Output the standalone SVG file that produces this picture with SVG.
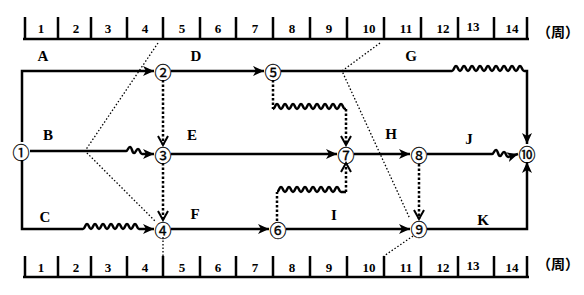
<svg xmlns="http://www.w3.org/2000/svg" width="584" height="295" viewBox="0 0 584 295">
<style>
.ax{stroke:#000;stroke-width:2.5;fill:none}
.ln{stroke:#000;stroke-width:2.5;fill:none}
.dt{stroke:#000;stroke-width:2.5;fill:none;stroke-dasharray:2.5 2}
.ck{stroke:#000;stroke-width:1.3;fill:none;stroke-dasharray:1.5 2}
.num{font-family:"Liberation Serif",serif;font-weight:bold;font-size:13px;text-anchor:middle}
.lab{font-family:"Liberation Serif",serif;font-weight:bold;font-size:15px;text-anchor:middle}
.unit{font-family:"Liberation Serif","Noto Sans CJK SC",serif;font-weight:bold;font-size:14px}
.nd{font-family:"Noto Sans CJK SC",sans-serif;font-size:17px;text-anchor:middle;dominant-baseline:central;stroke:#000;stroke-width:0.3}
</style>
<defs>
<marker id="ar" markerUnits="userSpaceOnUse" markerWidth="12" markerHeight="10" refX="11" refY="5" orient="auto">
<path d="M0,0 L11,5 L0,10 L3,5 z" fill="#000"/>
</marker>
<marker id="av" markerUnits="userSpaceOnUse" markerWidth="12" markerHeight="12" refX="10" refY="6" orient="auto">
<path d="M1,1 L10,6 L1,11" fill="none" stroke="#000" stroke-width="2"/>
</marker>
</defs>
<g id="scale-top">
<path class="ax" d="M23,39 H529 M25,17 V39 M58,17 V39 M91,17 V39 M127,17 V39 M163,17 V39 M200,17 V39 M236,17 V39 M273,17 V39 M310,17 V39 M347,17 V39 M384,17 V39 M421,17 V39 M458,17 V39 M494,17 V39 M527,17 V39"/>
<text class="num" x="41" y="33">1</text><text class="num" x="76" y="33">2</text><text class="num" x="108" y="33">3</text><text class="num" x="145" y="33">4</text><text class="num" x="182" y="33">5</text><text class="num" x="218" y="33">6</text><text class="num" x="255" y="33">7</text><text class="num" x="292" y="33">8</text><text class="num" x="329" y="33">9</text><text class="num" x="369" y="33">10</text><text class="num" x="406" y="33">11</text><text class="num" x="443" y="33">12</text><text class="num" x="473" y="31">13</text><text class="num" x="512" y="33">14</text>
<text class="unit" x="537" y="37">（周）</text>
</g>
<g id="scale-bottom">
<path class="ax" d="M23,277 H529 M25,256 V277 M58,256 V277 M91,256 V277 M127,256 V277 M163,256 V277 M200,256 V277 M236,256 V277 M273,256 V277 M310,256 V277 M347,256 V277 M384,256 V277 M421,256 V277 M458,256 V277 M494,256 V277 M527,256 V277"/>
<text class="num" x="41" y="272">1</text><text class="num" x="76" y="272">2</text><text class="num" x="108" y="272">3</text><text class="num" x="145" y="272">4</text><text class="num" x="182" y="272">5</text><text class="num" x="218" y="272">6</text><text class="num" x="255" y="272">7</text><text class="num" x="292" y="272">8</text><text class="num" x="329" y="272">9</text><text class="num" x="369" y="272">10</text><text class="num" x="406" y="272">11</text><text class="num" x="443" y="272">12</text><text class="num" x="473" y="270">13</text><text class="num" x="512" y="272">14</text>
<text class="unit" x="537" y="269">（周）</text>
</g>
<g id="connectors">
<path class="ln" d="M22,142 V71 H154" marker-end="url(#ar)"/>
<path class="ln" d="M171,71 H264" marker-end="url(#ar)"/>
<path class="ln" d="M281,71 H452 c2,0 2,-5 4,-5 c2,0 2,5 4,5 c2,0 2,-5 4,-5 c2,0 2,5 4,5 c2,0 2,-5 4,-5 c2,0 2,5 4,5 c2,0 2,-5 4,-5 c2,0 2,5 4,5 c2,0 2,-5 4,-5 c2,0 2,5 4,5 c2,0 2,-5 4,-5 c2,0 2,5 4,5 c2,0 2,-5 4,-5 c2,0 2,5 4,5 c2,0 2,-5 4,-5 c2,0 2,5 4,5 c2,0 2,-5 4,-5 c2,0 2,5 4,5 L527,71 V144" marker-end="url(#ar)"/>
<path class="ln" d="M30,151 H126 c2,0 2,-4 4,-4 c2,0 2,6 4,6 c2,0 2,-4 4,-4 c2,0 2,5 4,5 L154,154" marker-end="url(#ar)"/>
<path class="ln" d="M171,154 H337" marker-end="url(#ar)"/>
<path class="ln" d="M354,154 H410" marker-end="url(#ar)"/>
<path class="ln" d="M427,154 H492 c2,0 2,-4 4,-4 c2,0 2,6 4,6 c2,0 2,-4 4,-4 c2,0 2,5 4,5 L518,154" marker-end="url(#ar)"/>
<path class="ln" d="M22,160 V229 H83 c2,0 2,-5 4,-5 c2,0 2,5 4,5 c2,0 2,-5 4,-5 c2,0 2,5 4,5 c2,0 2,-5 4,-5 c2,0 2,5 4,5 c2,0 2,-5 4,-5 c2,0 2,5 4,5 c2,0 2,-5 4,-5 c2,0 2,5 4,5 c2,0 2,-5 4,-5 c2,0 2,5 4,5 c2,0 2,-5 4,-5 c2,0 2,5 4,5 L154,229" marker-end="url(#ar)"/>
<path class="ln" d="M171,229 H269" marker-end="url(#ar)"/>
<path class="ln" d="M286,229 H410" marker-end="url(#ar)"/>
<path class="ln" d="M427,229 H527 V162" marker-end="url(#ar)"/>
<path class="dt" d="M163,80 V145" marker-end="url(#av)"/>
<path class="dt" d="M163,163 V220" marker-end="url(#av)"/>
<path class="dt" d="M419,164 V219" marker-end="url(#av)"/>
<path class="dt" d="M273,80 V109"/>
<path class="ln" d="M273,109 c2,0 2,-5 4,-5 c2,0 2,5 4,5 c2,0 2,-5 4,-5 c2,0 2,5 4,5 c2,0 2,-5 4,-5 c2,0 2,5 4,5 c2,0 2,-5 4,-5 c2,0 2,5 4,5 c2,0 2,-5 4,-5 c2,0 2,5 4,5 c2,0 2,-5 4,-5 c2,0 2,5 4,5 c2,0 2,-5 4,-5 c2,0 2,5 4,5 c2,0 2,-5 4,-5 c2,0 2,5 4,5 c2,0 2,-5 4,-5 c2,0 2,5 4,5 L346,109"/>
<path class="dt" d="M346,109 V145" marker-end="url(#av)"/>
<path class="dt" d="M277,221 V192"/>
<path class="ln" d="M277,192 c2,0 2,-5 4,-5 c2,0 2,5 4,5 c2,0 2,-5 4,-5 c2,0 2,5 4,5 c2,0 2,-5 4,-5 c2,0 2,5 4,5 c2,0 2,-5 4,-5 c2,0 2,5 4,5 c2,0 2,-5 4,-5 c2,0 2,5 4,5 c2,0 2,-5 4,-5 c2,0 2,5 4,5 c2,0 2,-5 4,-5 c2,0 2,5 4,5 c2,0 2,-5 4,-5 c2,0 2,5 4,5 L346,192"/>
<path class="dt" d="M346,192 V163" marker-end="url(#av)"/>
<path class="ck" d="M158,43 L85,151 L156,222 M163,237 V256"/>
<path class="ck" d="M380,43 L342,71 L410,219 M413,236 L384,256"/>
</g>
<g id="labels">
<text class="lab" x="43" y="61">A</text>
<text class="lab" x="196" y="61">D</text>
<text class="lab" x="411" y="61">G</text>
<text class="lab" x="48" y="140">B</text>
<text class="lab" x="192" y="140">E</text>
<text class="lab" x="391" y="139">H</text>
<text class="lab" x="469" y="144">J</text>
<text class="lab" x="45" y="222">C</text>
<text class="lab" x="195" y="219">F</text>
<text class="lab" x="334" y="220">I</text>
<text class="lab" x="483" y="225">K</text>
</g>
<g id="n1"><text class="nd" x="21" y="151">①</text></g>
<g id="n2"><text class="nd" x="163" y="71">②</text></g>
<g id="n3"><text class="nd" x="163" y="154">③</text></g>
<g id="n4"><text class="nd" x="163" y="229">④</text></g>
<g id="n5"><text class="nd" x="273" y="71">⑤</text></g>
<g id="n6"><text class="nd" x="278" y="229">⑥</text></g>
<g id="n7"><text class="nd" x="346" y="154">⑦</text></g>
<g id="n8"><text class="nd" x="419" y="154">⑧</text></g>
<g id="n9"><text class="nd" x="419" y="228">⑨</text></g>
<g id="n10"><text class="nd" x="527" y="153">⑩</text></g>
</svg>
